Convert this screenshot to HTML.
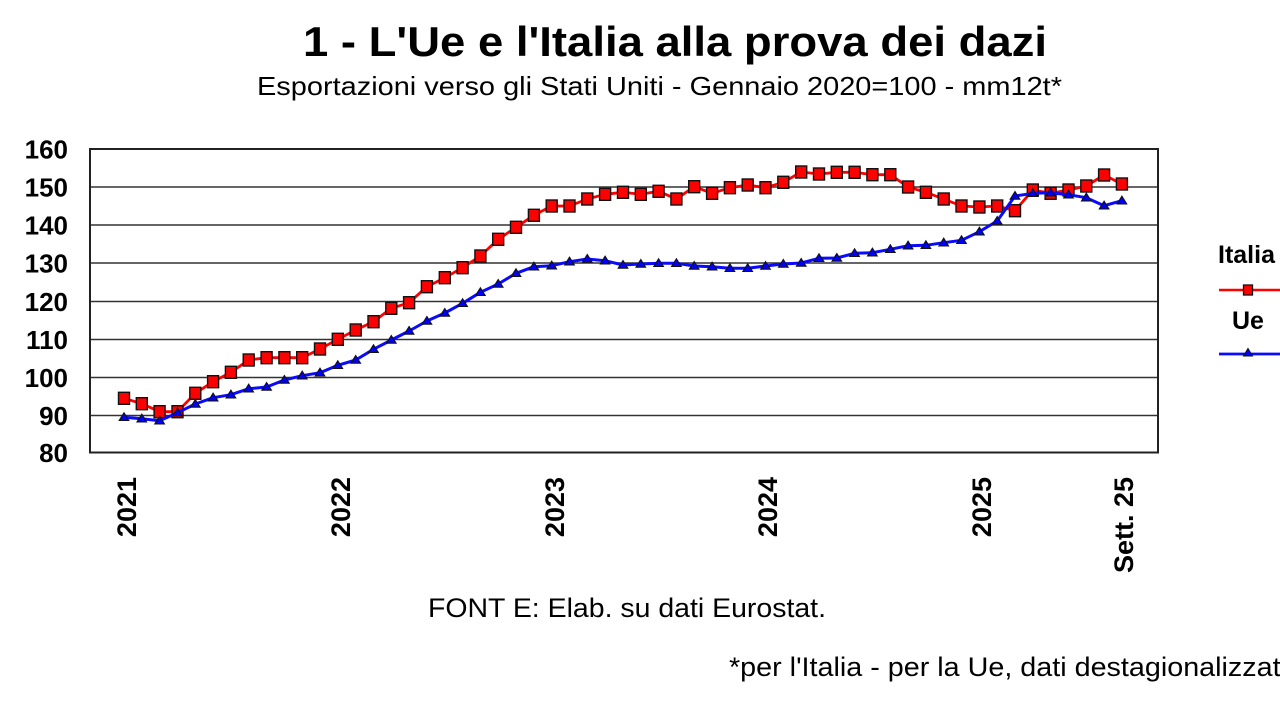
<!DOCTYPE html>
<html>
<head>
<meta charset="utf-8">
<style>
html,body{margin:0;padding:0;background:#fff;}
svg{display:block;}
text{font-family:"Liberation Sans",Arial,sans-serif;fill:#000;}
</style>
</head>
<body>
<svg width="1280" height="701" viewBox="0 0 1280 701" xmlns="http://www.w3.org/2000/svg">
<defs>
<marker id="sq" markerUnits="userSpaceOnUse" markerWidth="14" markerHeight="14" refX="7" refY="7" viewBox="0 0 14 14" overflow="visible">
<rect x="1.5" y="1" width="11" height="12" fill="#ff0000" stroke="#111" stroke-width="1.4"/>
</marker>
<marker id="tri" markerUnits="userSpaceOnUse" markerWidth="14" markerHeight="14" refX="7" refY="7" viewBox="0 0 14 14" overflow="visible">
<polygon points="7,2.5 11.8,10.2 2.2,10.2" fill="#0000ff" stroke="#111" stroke-width="1.1"/>
</marker>
</defs>
<rect width="1280" height="701" fill="#fff"/>

<!-- Title -->
<text x="303" y="56" font-size="42" font-weight="bold" textLength="744" lengthAdjust="spacingAndGlyphs">1 - L'Ue e l'Italia alla prova dei dazi</text>
<text x="257" y="95" font-size="26" textLength="805" lengthAdjust="spacingAndGlyphs">Esportazioni verso gli Stati Uniti - Gennaio 2020=100 - mm12t*</text>

<!-- gridlines -->
<g stroke="#333" stroke-width="1.6">
<line x1="90" y1="187" x2="1158" y2="187"/>
<line x1="90" y1="225" x2="1158" y2="225"/>
<line x1="90" y1="263" x2="1158" y2="263"/>
<line x1="90" y1="301.5" x2="1158" y2="301.5"/>
<line x1="90" y1="339.5" x2="1158" y2="339.5"/>
<line x1="90" y1="377.5" x2="1158" y2="377.5"/>
<line x1="90" y1="415.5" x2="1158" y2="415.5"/>
</g>
<rect x="90" y="149" width="1068" height="303.5" fill="none" stroke="#222" stroke-width="2"/>

<!-- Y labels -->
<g font-size="26" font-weight="bold" text-anchor="end">
<text x="68" y="158.5">160</text>
<text x="68" y="196.5">150</text>
<text x="68" y="234.5">140</text>
<text x="68" y="272.5">130</text>
<text x="68" y="311">120</text>
<text x="68" y="349">110</text>
<text x="68" y="387">100</text>
<text x="68" y="425">90</text>
<text x="68" y="462">80</text>
</g>

<!-- X labels -->
<g font-size="27" font-weight="bold" text-anchor="end">
<text transform="translate(136,477) rotate(-90)">2021</text>
<text transform="translate(350,477) rotate(-90)">2022</text>
<text transform="translate(564,477) rotate(-90)">2023</text>
<text transform="translate(777,477) rotate(-90)">2024</text>
<text transform="translate(991,477) rotate(-90)">2025</text>
<text transform="translate(1133,477) rotate(-90)">Sett. 25</text>
</g>

<!-- Italia -->
<polyline fill="none" stroke="#ff0000" stroke-width="2.8" stroke-linejoin="round" marker-start="url(#sq)" marker-mid="url(#sq)" marker-end="url(#sq)"
points="124,398.3 141.8,403.7 159.6,411.7 177.5,411.7 195.3,393.3 213.1,381.7 230.9,372.3 248.7,360 266.6,357.7 284.4,357.7 302.2,357.7 320,349 337.8,339.3 355.7,330 373.5,321.7 391.3,308.3 409.1,302.7 426.9,286.7 444.8,277.7 462.6,267.7 480.4,256 498.2,239.3 516,227.3 533.9,215.3 551.7,206 569.5,206 587.3,199 605.1,194.3 623,192.3 640.8,194.3 658.6,191.3 676.4,199 694.2,186.7 712.1,193.3 729.9,187.7 747.7,185 765.5,187.7 783.3,182.3 801.2,172 819,174 836.8,172.3 854.6,172.3 872.4,174.7 890.3,174.7 908.1,187 925.9,192.3 943.7,199 961.5,206 979.4,207 997.2,206 1015,210.7 1032.8,190 1050.6,193.3 1068.5,190 1086.3,186 1104.1,175 1121.9,184"/>

<!-- Ue -->
<polyline fill="none" stroke="#0a0aff" stroke-width="3" stroke-linejoin="round" marker-start="url(#tri)" marker-mid="url(#tri)" marker-end="url(#tri)"
points="124,417.3 141.8,418.7 159.6,420.7 177.5,412.7 195.3,404 213.1,397.7 230.9,394.7 248.7,388.7 266.6,387 284.4,380 302.2,375.7 320,372.7 337.8,365.3 355.7,360 373.5,349.3 391.3,340 409.1,331 426.9,321 444.8,313 462.6,303.3 480.4,292.3 498.2,284 516,273.3 533.9,266.7 551.7,265.7 569.5,261.7 587.3,259 605.1,260.7 623,265 640.8,264 658.6,263.3 676.4,263.3 694.2,266 712.1,266.7 729.9,268.3 747.7,268.3 765.5,266 783.3,264 801.2,263 819,258.3 836.8,258 854.6,253.3 872.4,252.7 890.3,249.3 908.1,245.7 925.9,245.3 943.7,242.7 961.5,240.3 979.4,231.7 997.2,221 1015,196 1032.8,193.3 1050.6,192.7 1068.5,194.7 1086.3,197.7 1104.1,205.7 1121.9,200.7"/>

<!-- Legend -->
<text x="1218" y="263" font-size="25" font-weight="bold">Italia</text>
<line x1="1219" y1="290" x2="1280" y2="290" stroke="#ff0000" stroke-width="2.4"/>
<rect x="1243.5" y="285" width="9" height="10" fill="#ff0000" stroke="#111" stroke-width="1.3"/>
<text x="1232" y="329" font-size="25" font-weight="bold">Ue</text>
<line x1="1219" y1="354" x2="1280" y2="354" stroke="#0a0aff" stroke-width="2.7"/>
<polygon points="1248,348.5 1252.5,356 1243.5,356" fill="#0000ff" stroke="#111" stroke-width="1"/>

<!-- Footer -->
<text x="428" y="617" font-size="27" textLength="398" lengthAdjust="spacingAndGlyphs">FONT E: Elab. su dati Eurostat.</text>
<text x="729" y="676" font-size="27" textLength="558" lengthAdjust="spacingAndGlyphs">*per l'Italia - per la Ue, dati destagionalizzati</text>
</svg>
</body>
</html>
